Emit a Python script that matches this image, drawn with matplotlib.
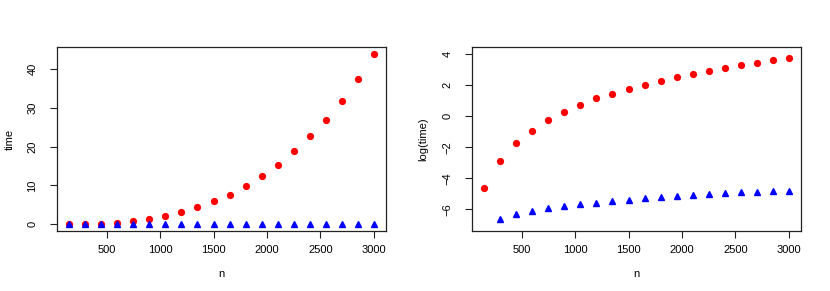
import numpy as np
import matplotlib
matplotlib.use("Agg")
import matplotlib.pyplot as plt

plt.rcParams["font.family"] = ["Liberation Sans", "DejaVu Sans"]
plt.rcParams["font.size"] = 8

# problem sizes
n = [150, 300, 450, 600, 750, 900, 1050, 1200, 1350, 1500,
     1650, 1800, 1950, 2100, 2250, 2400, 2550, 2700, 2850, 3000]

# running times (red circles: slow method, blue triangles: fast method)
time_slow = [0.00995, 0.0573, 0.174, 0.391, 0.771, 1.35, 2.08, 3.16, 4.31, 5.93,
             7.54, 9.78, 12.43, 15.33, 18.92, 22.65, 26.84, 31.82, 37.3, 43.82]
time_fast = [0.0, 0.00135, 0.00184, 0.00218, 0.00263, 0.00306, 0.00348, 0.00381, 0.00425, 0.00452,
             0.00504, 0.00536, 0.00598, 0.00635, 0.00681, 0.00723, 0.00745, 0.00760, 0.00823, 0.00823]

x_ticks = [500, 1000, 1500, 2000, 2500, 3000]
time_ticks = [0, 10, 20, 30, 40]
log_ticks = [-6, -4, -2, 0, 2, 4]


def r_style(ax):
    for s in ax.spines.values():
        s.set_linewidth(0.9)
        s.set_color("#222222")
    ax.tick_params(direction="out", length=5, width=0.8, color="#222222")
    ax.tick_params(axis="x", pad=5)
    ax.tick_params(axis="y", pad=9)
    for lab in ax.get_yticklabels():
        lab.set_rotation(90)
        lab.set_va("center")


fig = plt.figure(figsize=(8.3, 2.91), dpi=100)
ax1 = fig.add_axes([0.0687, 0.206, 0.3964, 0.632])
ax2 = fig.add_axes([0.5687, 0.206, 0.3964, 0.632])

ms = 4.2
ax1.plot(n, time_slow, "o", color="#ff0000", ms=ms, mec="#ff0000")
ax1.plot(n, time_fast, "^", color="#0000ff", ms=ms, mec="#0000ff")
ax1.margins(0.04)
ax1.set_xticks(x_ticks)
ax1.set_yticks(time_ticks)
ax1.set_xlabel("n", labelpad=10)
ax1.set_ylabel("time", labelpad=9)
r_style(ax1)

with np.errstate(divide="ignore"):
    log_slow = np.log(np.array(time_slow))
    log_fast = np.log(np.array(time_fast))
log_fast[~np.isfinite(log_fast)] = np.nan

ax2.plot(n, log_slow, "o", color="#ff0000", ms=ms, mec="#ff0000")
ax2.plot(n, log_fast, "^", color="#0000ff", ms=ms, mec="#0000ff")
ax2.set_xlim(36, 3114)
ax2.set_ylim(-7.40, 4.45)
ax2.set_xticks(x_ticks)
ax2.set_yticks(log_ticks)
ax2.set_xlabel("n", labelpad=10)
ax2.set_ylabel("log(time)", labelpad=10)
r_style(ax2)

fig.savefig("out.png", dpi=100)
